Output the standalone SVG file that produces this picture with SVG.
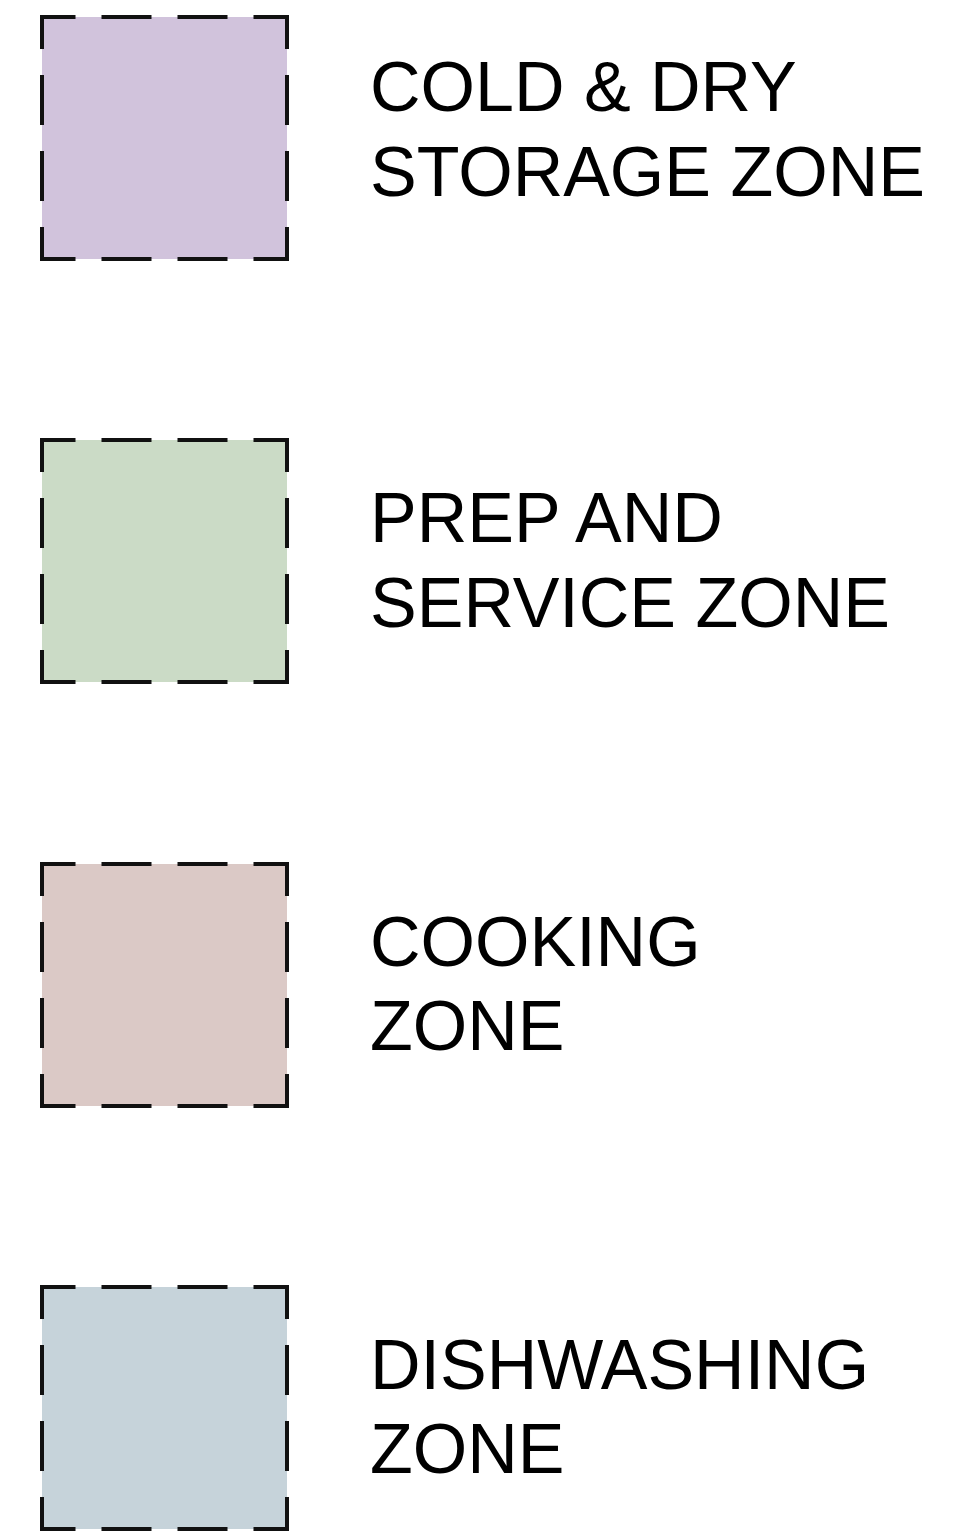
<svg xmlns="http://www.w3.org/2000/svg" width="959" height="1536" viewBox="0 0 959 1536">
  <style>
    .swatch { stroke: #111; stroke-width: 4; stroke-linejoin: miter; stroke-dasharray: 33.5 26 50 26 50 26 65.5 26 50 26 50 26 65.5 26 50 26 50 26 65.5 26 50 26 50 26 32; }
    .label { font-family: "Liberation Sans", Arial, sans-serif; font-size: 70px; fill: #000; }
  </style>
  <rect width="959" height="1536" fill="#ffffff"/>
  <g id="cold-dry-storage">
    <rect class="swatch" x="42" y="17" width="245" height="242" fill="#d1c3dc"/>
    <text class="label" x="370" y="111">COLD &amp; DRY</text>
    <text class="label" x="370" y="196">STORAGE ZONE</text>
  </g>
  <g id="prep-service">
    <rect class="swatch" x="42" y="440" width="245" height="242" fill="#cbdbc6"/>
    <text class="label" x="370" y="542">PREP AND</text>
    <text class="label" x="370" y="627">SERVICE ZONE</text>
  </g>
  <g id="cooking">
    <rect class="swatch" x="42" y="864" width="245" height="242" fill="#dbc9c6"/>
    <text class="label" x="370" y="966">COOKING</text>
    <text class="label" x="370" y="1050">ZONE</text>
  </g>
  <g id="dishwashing">
    <rect class="swatch" x="42" y="1287" width="245" height="242" fill="#c6d3da"/>
    <text class="label" x="370" y="1389">DISHWASHING</text>
    <text class="label" x="370" y="1473">ZONE</text>
  </g>
  <g id="connectors"/>
</svg>
